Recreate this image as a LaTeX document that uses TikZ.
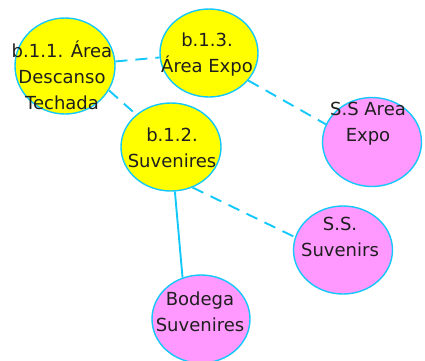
\documentclass[tikz,border=0pt]{standalone}
\usepackage{fontspec}
\setmainfont{DejaVu Sans}
\usetikzlibrary{shapes.geometric}
\definecolor{linecyan}{RGB}{20,200,250}
\definecolor{bubyellow}{RGB}{255,255,0}
\definecolor{bubpink}{RGB}{255,153,255}
\definecolor{inkgrey}{RGB}{30,30,30}
\begin{document}
\begin{tikzpicture}[x=1pt,y=-1pt,
	bubble/.style={ellipse,draw=linecyan,line width=1.4pt,inner sep=0pt},
	yelbub/.style={bubble,fill=bubyellow},
	pinkbub/.style={bubble,fill=bubpink},
	lbl/.style={align=center,text=inkgrey,inner sep=0pt,
		font=\fontsize{18}{26}\selectfont},
	link/.style={linecyan,line width=1.9pt},
	dlink/.style={link,dash pattern=on 12pt off 8pt}]
	\useasboundingbox (0,0) rectangle (425,360);
	% bubbles
	\node[yelbub,minimum width=100pt,minimum height=96pt] (b11) at (65,66) {};
	\node[yelbub,minimum width=98pt,minimum height=88pt] (b13) at (209,53) {};
	\node[yelbub,minimum width=100pt,minimum height=88pt] (b12) at (171,147) {};
	\node[pinkbub,minimum width=99pt,minimum height=89pt] (ssae) at (372,142) {};
	\node[pinkbub,minimum width=99pt,minimum height=88pt] (sss) at (343,250) {};
	\node[pinkbub,minimum width=98pt,minimum height=88pt] (bod) at (201,319) {};
	% links
	\draw[dlink] (b11) -- (b13);
	\draw[dlink] (b11.-29) -- (b12.137);
	\draw[dlink] (b13.-35) -- (ssae.159);
	\draw[dlink] (b12.-62) -- (sss.165);
	\draw[link] (b12.-85) -- (bod.114);
	% labels
	\node[lbl] (t11) at (62,75) {b.1.1. Área\\Descanso\\Techada};
	\node[lbl] (t13) at (207,55) {b.1.3.\\Área Expo};
	\node[lbl] (t12) at (172,148) {b.1.2.\\Suvenires};
	\node[lbl] (tssae) at (368,124) {S.S Area\\Expo};
	\node[lbl] (tsss) at (340,237) {S.S.\\Suvenirs};
	\node[lbl] (tbod) at (200,312) {Bodega\\Suvenires};
\end{tikzpicture}
\end{document}
